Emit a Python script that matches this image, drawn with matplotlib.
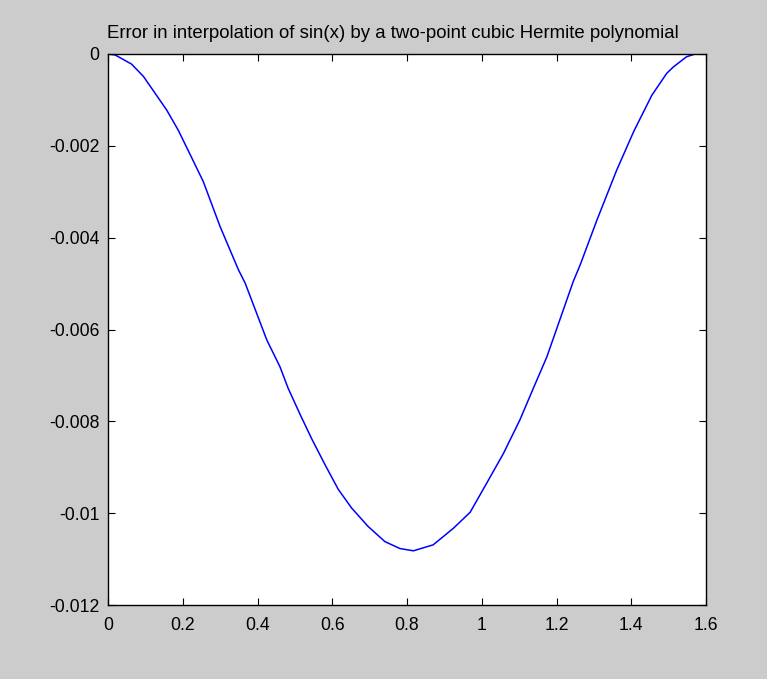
import matplotlib
matplotlib.use('Agg')
import matplotlib.pyplot as plt

# points
x = [0.0, 0.019, 0.063, 0.095, 0.157, 0.188, 0.224, 0.255, 0.300, 0.349, 0.367,
     0.425, 0.460, 0.482, 0.514, 0.545, 0.581, 0.616, 0.652, 0.696, 0.741,
     0.781, 0.817, 0.870, 0.924, 0.969, 1.013, 1.058, 1.102, 1.138, 1.174,
     1.245, 1.263, 1.308, 1.361, 1.407, 1.455, 1.495, 1.513, 1.548, 1.571]
err = [0.0, -0.00002, -0.00022, -0.00049, -0.00122, -0.00166, -0.00226, -0.00278,
       -0.00376, -0.00470, -0.00499, -0.00623, -0.00681, -0.00728, -0.00785,
       -0.00838, -0.00895, -0.00948, -0.00989, -0.01029, -0.01062, -0.01077,
       -0.01082, -0.01069, -0.01033, -0.00998, -0.00935, -0.00870, -0.00797,
       -0.00728, -0.00660, -0.00495, -0.00460, -0.00362, -0.00253, -0.00168,
       -0.00090, -0.00042, -0.00028, -0.00006, 0.0]

xticks = [0, 0.2, 0.4, 0.6, 0.8, 1, 1.2, 1.4, 1.6]
xlabels = ['0', '0.2', '0.4', '0.6', '0.8', '1', '1.2', '1.4', '1.6']
yticks = [0, -0.002, -0.004, -0.006, -0.008, -0.01, -0.012]
ylabels = ['0', '-0.002', '-0.004', '-0.006', '-0.008', '-0.01', '-0.012']

plt.rcParams['font.family'] = ['Liberation Sans', 'DejaVu Sans']

fig = plt.figure(figsize=(7.67, 6.79), dpi=100, facecolor='#cccccc')
ax = fig.add_axes([108/767, 74/679, 598/767, 551/679])
ax.plot(x, err, color='#0000ff', lw=1.1)
ax.set_xlim(0, 1.6)
ax.set_ylim(-0.012, 0)
ax.set_xticks(xticks, xlabels)
ax.set_yticks(yticks, ylabels)
ax.tick_params(direction='in', length=5, width=0.8, top=True, right=True,
               labelsize=12.7, pad=6, colors='black')
ax.tick_params(axis='x', pad=9)
for s in ax.spines.values():
    s.set_linewidth(1.0)
fig.text(393/767, 1 - 33/679, 'Error in interpolation of sin(x) by a two-point cubic Hermite polynomial',
         ha='center', va='center', fontsize=13.4)

fig.savefig('out.png', dpi=100, facecolor=fig.get_facecolor())
